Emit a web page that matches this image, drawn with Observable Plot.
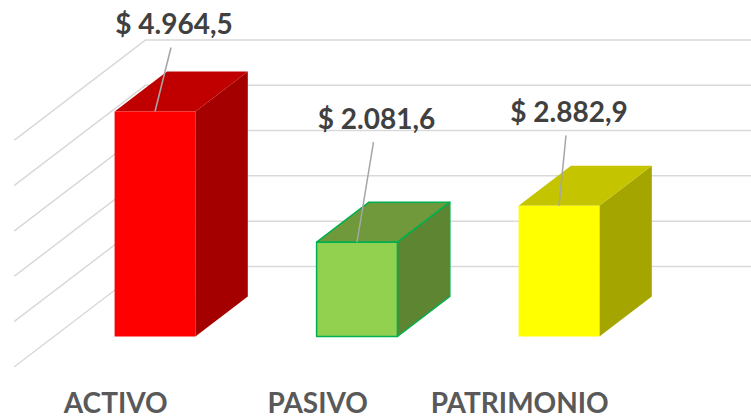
<!DOCTYPE html>
<html><head><meta charset="utf-8">
<script src="https://cdn.jsdelivr.net/npm/d3@7"></script>
<script src="https://cdn.jsdelivr.net/npm/@observablehq/plot@0.6"></script>
<style>body{margin:0;background:#fff;} #chart svg{display:block;}</style>
</head><body><div id="chart"></div>
<script>
// ---- data ----
const categories = ["ACTIVO", "PASIVO", "PATRIMONIO"];
const values = [4964.5, 2081.6, 2882.9];
const valueLabels = ["$ 4.964,5", "$ 2.081,6", "$ 2.882,9"];
const gridValues = [0, 1000, 2000, 3000, 4000, 5000];
const frontColors = ["#ff0000", "#92d050", "#ffff00"];
const topColors = ["#c00000", "#70993b", "#c4c400"];
const sideColors = ["#a50000", "#5e8532", "#a5a500"];
const edgeColors = ["none", "#00b050", "none"];

// ---- layout ----
const W = 751, H = 419;
const K = 0.04532;          // px per value unit
const BASE_Y = 336;         // px of value 0 on the front plane
const STEP = 202, X0 = 154.5;
const SLANT = 1.31;         // horizontal px per px of depth
const BAR_HALF = 0.2, BAR_DEPTH = 40, WALL_DEPTH = 70, FLOOR_FRONT = -30;
const labelDx = [19, 19.5, 10];     // px, label centre relative to bar centre
const labelLift = [86, 122, 92.5];  // px, label centre above bar top

const P = (i, v, d = 0) => ({x: i + d * SLANT / STEP, y: v + d / K});

// gridlines (left wall + back wall)
const grid = [];
const xl = -0.5, xr = categories.length - 0.5;
gridValues.forEach((v, g) => {
  [P(xl, v, FLOOR_FRONT), P(xl, v, WALL_DEPTH), P(xr, v, WALL_DEPTH)]
    .forEach(p => grid.push({...p, g}));
});

// bar faces
const faces = [];
values.forEach((v, i) => {
  const a = i - BAR_HALF, b = i + BAR_HALF;
  const add = (id, pts, fill) => pts.forEach(p => faces.push({...p, id: `${i}-${id}`, fill, stroke: edgeColors[i]}));
  add("side", [P(b, 0, 0), P(b, 0, BAR_DEPTH), P(b, v, BAR_DEPTH), P(b, v, 0)], sideColors[i]);
  add("top", [P(a, v, 0), P(b, v, 0), P(b, v, BAR_DEPTH), P(a, v, BAR_DEPTH)], topColors[i]);
  add("front", [P(a, 0), P(b, 0), P(b, v), P(a, v)], frontColors[i]);
});

const labels = values.map((v, i) => ({
  x: i + labelDx[i] / STEP,
  y: v + labelLift[i] / K,
  x1: i, y1: v,
  x2: i + (labelDx[i] - 3) / STEP,
  y2: v + (labelLift[i] - 22) / K,
  text: valueLabels[i]
}));
const cats = categories.map((c, i) => ({...P(i, 0, FLOOR_FRONT), text: c}));

const chart = Plot.plot({
  width: W, height: H,
  margin: 0,
  style: {background: "#fff", overflow: "visible"},
  x: {domain: [-X0 / STEP, (W - X0) / STEP], range: [0, W], axis: null},
  y: {domain: [-(H - BASE_Y) / K, BASE_Y / K], range: [H, 0], axis: null},
  color: {type: "identity"},
  marks: [
    Plot.line(grid, {x: "x", y: "y", z: "g", stroke: "#d9d9d9", strokeWidth: 1.5}),
    Plot.line(faces, {x: "x", y: "y", z: "id", fill: "fill", stroke: "stroke", strokeWidth: 1.5, strokeLinejoin: "round", curve: "linear-closed"}),
    Plot.link(labels, {x1: "x1", y1: "y1", x2: "x2", y2: "y2", stroke: "#a6a6a6", strokeWidth: 1.5}),
    Plot.text(labels, {x: "x", y: "y", text: "text", fill: "#404040", fontSize: 28, fontWeight: "bold", fontFamily: "Lato", lineAnchor: "middle"}),
    Plot.text(cats, {x: "x", y: "y", text: "text", dy: 38, fill: "#595959", fontSize: 28, fontWeight: "bold", fontFamily: "Lato", lineAnchor: "middle"})
  ]
});
document.getElementById("chart").appendChild(chart);
</script>
</body></html>
